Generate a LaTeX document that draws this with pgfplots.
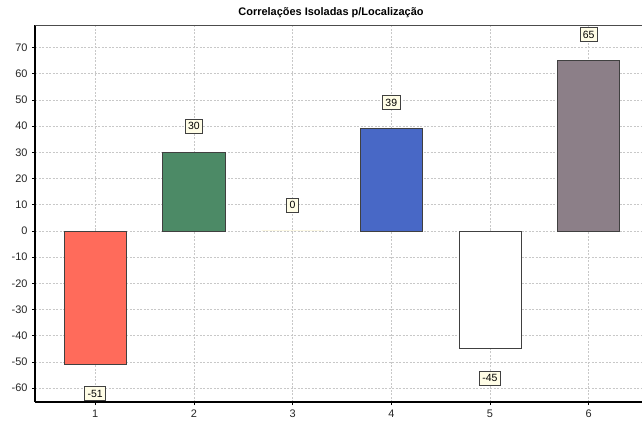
\documentclass[border=0pt]{standalone}
\usepackage{pgfplots}
\pgfplotsset{compat=1.18}
\usepackage{fontspec}
\setmainfont{Liberation Sans}

\definecolor{barred}{HTML}{FF6B5B}
\definecolor{bargreen}{HTML}{4C8A66}
\definecolor{barblue}{HTML}{4868C6}
\definecolor{bargray}{HTML}{8C7F88}
\definecolor{lblfill}{HTML}{FFFDE6}
\definecolor{gridgray}{HTML}{C8C8C8}

\pgfplotsset{
  lbl up/.style={nodes near coords, every node near coord/.append style={anchor=center, yshift=26bp}},
  lbl down/.style={nodes near coords, every node near coord/.append style={anchor=center, yshift=-29bp}},
}

\begin{document}
\begin{tikzpicture}
\path[use as bounding box] (-35bp,-21bp) rectangle (607bp,402bp);
\begin{axis}[
  at={(0,0)}, anchor=south west,
  scale only axis, width=607bp, height=377bp,
  xmin=0.39, xmax=6.54, ymin=-65.3, ymax=78.6,
  xtick={1,2,3,4,5,6}, ytick={-60,-50,...,70},
  separate axis lines,
  axis x line*=bottom, axis y line*=left,
  axis line style={line width=1.6bp, black, -},
  tick align=outside, major tick length=3bp,
  tick style={black, line width=0.6bp},
  ymajorgrids, xmajorgrids,
  major grid style={gridgray, line width=0.5bp, dash pattern=on 2bp off 1.5bp},
  ticklabel style={font=\fontsize{11}{13}\selectfont, text=black!85},
  /pgf/number format/assume math mode=true,
  yticklabel style={xshift=-1bp},
  xticklabel style={yshift=-1bp},
  ybar, bar width=0.63, bar shift=0pt,
  every node near coord/.style={font=\fontsize{10.5}{12}\selectfont, fill=lblfill, draw=black!75, line width=0.6bp, inner xsep=3bp, inner ysep=1.5bp, text=black, minimum height=14bp},
  clip=false,
]
\addplot[draw=black!75, line width=0.7bp, fill=barred, lbl down] coordinates {(1,-51)};
\addplot[draw=black!75, line width=0.7bp, fill=bargreen, lbl up] coordinates {(2,30)};
\addplot[draw={rgb,255:red,252;green,248;blue,228}, line width=1bp, fill=white, lbl up] coordinates {(3,0)};
\addplot[draw=black!75, line width=0.7bp, fill=barblue, lbl up] coordinates {(4,39)};
\addplot[draw=black!75, line width=0.7bp, fill=white, lbl down] coordinates {(5,-45)};
\addplot[draw=black!75, line width=0.7bp, fill=bargray, lbl up] coordinates {(6,65)};
\draw[black!70, line width=0.8bp] (rel axis cs:0,1) -- (rel axis cs:1,1);
\end{axis}
\node[font=\bfseries\fontsize{11}{13}\selectfont] at (296bp,389.5bp) {Correlações Isoladas p/Localização};
\end{tikzpicture}
\end{document}
